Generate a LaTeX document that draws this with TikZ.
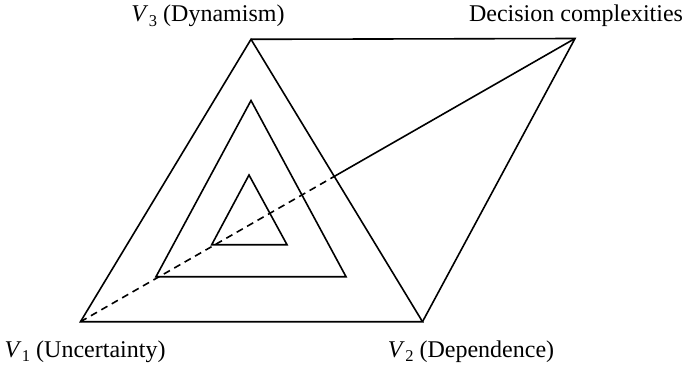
\documentclass[tikz,border=0pt]{standalone}
\usepackage{fontspec}
\setmainfont{Liberation Serif}
\newcommand{\Vsub}[1]{\textit{V}\kern0.5pt\raisebox{-4.5pt}{\fontsize{16.5}{18}\selectfont #1}}
\begin{document}
\begin{tikzpicture}[x=1pt,y=-1pt,
  edge/.style={line width=1.6pt,line join=miter},
  dashedge/.style={line width=1.6pt,dash pattern=on 7pt off 5pt},
  lbl/.style={font=\fontsize{24}{28}\selectfont,inner sep=0pt,anchor=base}]
\useasboundingbox (0,0) rectangle (684,367);
\coordinate (V1) at (80.5,321.7);
\coordinate (V2) at (422.5,321.7);
\coordinate (V3) at (251,39.3);
\coordinate (D) at (575,38.5);
\coordinate (M1) at (156,276.7);
\coordinate (M2) at (346,276.7);
\coordinate (M3) at (251,100.5);
\coordinate (I1) at (211.7,244.7);
\coordinate (I2) at (287,244.7);
\coordinate (I3) at (249,175);
\coordinate (X) at (intersection of V1--D and V2--V3);
\draw[edge] (V1) -- (V2) -- (V3) -- cycle;
\draw[edge] (V3) -- (D) -- (V2);
\draw[edge] (M1) -- (M2) -- (M3) -- cycle;
\draw[edge] (I1) -- (I2) -- (I3) -- cycle;
\draw[edge] (X) -- (D);
\draw[dashedge] (V1) -- (X);
\node[lbl] (L3) at (208,21.5) {\Vsub{3} (Dynamism)};
\node[lbl] (LD) at (576,21.5) {Decision complexities};
\node[lbl] (L1) at (85,357) {\Vsub{1} (Uncertainty)};
\node[lbl] (L2) at (471,357) {\Vsub{2} (Dependence)};
\end{tikzpicture}
\end{document}
